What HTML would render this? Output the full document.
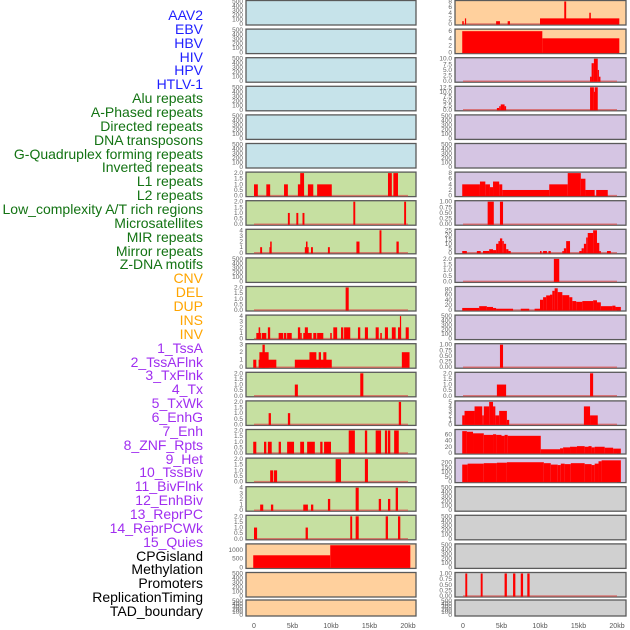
<!DOCTYPE html>
<html><head><meta charset="utf-8"><style>
body{margin:0;background:#fff;}
#wrap{position:relative;width:630px;height:630px;overflow:hidden;font-family:"Liberation Sans",sans-serif;}
.lab{position:absolute;right:427px;font-size:14px;line-height:14px;white-space:nowrap;}
svg{position:absolute;left:0;top:0;}
</style></head><body>
<div id="wrap">
<div id="labels"></div>
<svg id="svg" width="630" height="630"></svg>
</div>
<script>
// track labels
const labelNames = ["AAV2","EBV","HBV","HIV","HPV","HTLV-1","Alu repeats","A-Phased repeats","Directed repeats","DNA transposons","G-Quadruplex forming repeats","Inverted repeats","L1 repeats","L2 repeats","Low_complexity A/T rich regions","Microsatellites","MIR repeats","Mirror repeats","Z-DNA motifs","CNV","DEL","DUP","INS","INV","1_TssA","2_TssAFlnk","3_TxFlnk","4_Tx","5_TxWk","6_EnhG","7_Enh","8_ZNF_Rpts","9_Het","10_TssBiv","11_BivFlnk","12_EnhBiv","13_ReprPC","14_ReprPCWk","15_Quies","CPGisland","Methylation","Promoters","ReplicationTiming","TAD_boundary"];
const labelGroups = ["b","b","b","b","b","b","g","g","g","g","g","g","g","g","g","g","g","g","g","o","o","o","o","o","p","p","p","p","p","p","p","p","p","p","p","p","p","p","p","k","k","k","k","k"];
const groupColors = {b:"#1f1fff",g:"#137313",o:"#ffa500",p:"#a02ef0",k:"#000"};

// x ticks
const xTickValues = [0,5000,10000,15000,20000];
const xTickLabels = ["0","5kb","10kb","15kb","20kb"];

// column 1 data: segments [startKb, endKb, value]
const c1r6 = [[0,0.5,1],[1.6,2.1,1],[3.9,4.4,1],[5.7,6.5,1],[6.0,6.5,2],[7.0,7.7,1],[8.2,10.1,1],[17.4,17.9,2],[18.1,18.7,2]];
const c1r7 = [[4.4,4.65,1],[5.5,5.75,1],[6.3,6.55,1],[12.9,13.15,2],[19.5,19.75,2]];
const c1r8 = [[0.8,1.05,1],[2.0,2.2,1],[2.1,2.3,2],[6.6,6.8,1],[6.75,6.95,2],[6.9,7.1,1],[7.4,7.65,1],[9.6,9.85,1],[13.3,13.7,2],[16.3,16.55,4],[18.5,18.8,2]];
const c1r10 = [[11.9,12.3,2]];
const c1r11 = [[0.3,0.9,1],[0.6,0.8,2],[1.0,1.6,1],[1.8,2.1,2],[3.2,3.8,1],[3.9,4.2,1],[4.3,4.9,1],[5.7,6.0,2],[6.0,6.2,1],[6.4,7.5,1],[6.6,7.0,2],[7.7,8.1,1],[8.2,9.0,1],[9.9,10.1,1],[10.3,10.8,2],[11.3,11.6,2],[11.7,12.5,2],[13.5,13.8,2],[14.4,14.8,2],[15.8,16.2,2],[16.4,16.6,1],[17.0,17.4,2],[17.9,18.4,2],[18.7,19.1,2],[18.95,19.1,4],[19.7,20.1,2]];
const c1r12 = [[-0.1,0.3,1],[0.6,2.9,1],[0.7,1.9,2],[1.1,1.4,3],[5.3,10.1,1],[7.2,8.1,2],[8.4,8.7,2],[9.0,9.4,2],[19.2,20.2,2]];
const c1r13 = [[5.3,5.7,1],[13.8,14.2,2]];
const c1r14 = [[1.9,2.2,1],[4.4,4.7,1],[18.8,19.1,2]];
const c1r15 = [[-0.1,0.3,1],[1.3,1.6,1],[1.8,2.3,1],[3.2,3.5,1],[4.3,5.2,1],[6.0,6.5,1],[6.9,7.9,1],[8.6,8.9,1],[9.1,10.0,1],[12.3,13.1,2],[14.4,14.7,2],[15.8,16.5,2],[17.0,17.3,2],[17.4,17.7,2],[18.2,18.8,2]];
const c1r16 = [[2.1,2.5,1],[2.6,3.0,1],[10.6,11.3,2],[14.4,14.8,2]];
const c1r17 = [[0.8,1.2,1],[2.2,2.5,1],[6.4,7.0,1],[7.4,7.7,1],[9.6,9.9,2],[13.2,13.6,4],[16.2,16.5,2],[17.4,17.7,2],[18.4,18.7,4]];
const c1r18 = [[0,0.4,1],[6.7,7.0,1],[12.5,12.75,2],[13.2,13.6,2],[17.1,17.4,2],[18.7,19.0,2]];
const c1r19 = [[-0.1,9.9,700],[9.9,20.3,1280]];

// column 2 data
const c2r0 = [[-0.1,0.1,1],[0.25,0.4,2],[4.3,4.8,1],[5.8,6.1,1],[10.0,20.3,2],[13.15,13.4,8],[16.4,16.6,4]];
const c2r1 = [[-0.1,10.3,6],[10.3,20.3,4]];
const c2r2 = [[16.5,16.7,2],[16.7,17.0,8],[17.0,17.5,10],[17.5,17.65,5],[17.65,17.85,2]];
const c2r3 = [[4.4,4.7,1],[4.7,4.9,2],[4.9,5.4,3],[5.4,5.6,2],[16.5,17.0,12.5],[17.0,17.1,10],[17.1,17.5,12.5]];
const c2r6 = [[-0.1,2.2,4],[2.2,2.9,5],[2.9,3.5,4],[3.5,3.9,3],[3.9,4.7,5],[4.7,5.1,4],[5.1,11.2,2],[11.2,13.6,4],[13.6,15.3,8],[15.3,15.9,6],[15.9,17.1,2],[17.3,18.8,2]];
const c2r7 = [[3.2,4.0,1],[4.8,5.2,1]];
const c2r8 = [[-0.1,0.5,2],[1.8,2.3,2],[2.6,3.4,2],[3.4,3.9,4],[3.9,4.3,3],[4.3,4.6,10],[4.6,4.8,13],[4.8,5.1,16],[5.1,5.3,13],[5.3,5.6,10],[5.6,5.9,4],[5.9,6.2,2],[10.0,10.2,2],[10.4,10.9,2],[11.1,11.4,2],[12.9,13.1,2],[13.1,13.4,5],[13.4,13.9,13],[15.1,15.4,2],[15.4,15.7,5],[15.7,16.0,10],[16.0,16.2,17],[16.2,16.9,22],[16.9,17.4,25],[17.4,17.7,11],[17.7,17.9,2],[18.7,19.2,2]];
const c2r9 = [[11.8,12.5,2]];
const c2r10 = [[-0.1,2.1,8],[2.1,3.1,15],[3.1,3.9,12],[3.9,4.3,8],[4.3,6.5,5],[7.5,8.6,5],[9.3,10.0,5],[10.0,10.4,40],[10.4,10.8,50],[10.8,11.3,57],[11.3,11.6,60],[11.6,11.9,75],[11.9,12.3,85],[12.3,12.9,70],[12.9,13.8,58],[13.8,14.2,50],[14.2,14.7,35],[14.7,15.5,32],[15.5,16.9,35],[16.9,17.4,38],[17.4,17.9,30],[17.9,19.4,15],[19.4,19.8,17],[19.8,20.5,12]];
const c2r12 = [[4.8,5.2,1]];
const c2r13 = [[4.4,5.6,1],[16.5,16.9,2]];
const c2r14 = [[-0.1,0.2,2],[0.2,1.5,3],[1.5,2.5,4],[2.5,2.7,2],[2.7,3.4,4],[3.4,3.9,5],[3.9,4.2,4],[4.2,4.7,2],[4.7,5.7,3],[5.7,6.0,1],[15.7,16.5,4],[16.5,17.5,2]];
const c2r15 = [[-0.1,0.5,70],[0.5,1.3,68],[1.3,2.7,63],[2.7,3.9,58],[3.9,4.3,60],[4.3,5.0,58],[5.0,5.4,55],[5.4,5.8,58],[5.8,10.1,55],[10.1,12.6,12],[12.6,13.0,15],[13.0,13.9,18],[13.9,14.8,20],[14.8,15.8,22],[15.8,16.3,20],[16.3,16.7,22],[16.7,17.1,18],[17.1,18.4,20],[18.4,19.5,17],[19.5,20.5,14]];
const c2r16 = [[-0.1,0.6,180],[0.6,2.7,190],[2.7,4.4,195],[4.4,5.7,200],[5.7,10.5,205],[10.5,11.4,195],[11.4,12.3,180],[12.3,12.7,175],[12.7,13.2,190],[13.2,14.0,185],[14.0,15.8,195],[15.8,16.7,185],[16.7,17.1,175],[17.1,17.6,190],[17.6,18.0,215],[18.0,20.5,225]];
const c2r20 = [[0.3,0.55,1],[2.3,2.55,1],[5.4,5.7,1],[6.5,6.8,1],[7.5,7.8,1],[8.35,8.65,1]];

const colBg1 = ["#c6e3ea","#c6e3ea","#c6e3ea","#c6e3ea","#c6e3ea","#c6e3ea","#c6e0a1","#c6e0a1","#c6e0a1","#c6e0a1","#c6e0a1","#c6e0a1","#c6e0a1","#c6e0a1","#c6e0a1","#c6e0a1","#c6e0a1","#c6e0a1","#c6e0a1","#ffd09d","#ffd09d","#ffd09d"];
const colBg2 = ["#ffd09d","#ffd09d","#d5c5e3","#d5c5e3","#d5c5e3","#d5c5e3","#d5c5e3","#d5c5e3","#d5c5e3","#d5c5e3","#d5c5e3","#d5c5e3","#d5c5e3","#d5c5e3","#d5c5e3","#d5c5e3","#d5c5e3","#d0d0d0","#d0d0d0","#d0d0d0","#d0d0d0","#d0d0d0"];
// [ymax, tickStep, decimals, data]
const col1 = [
 [500,100,0,null],[500,100,0,null],[500,100,0,null],[500,100,0,null],[500,100,0,null],[500,100,0,null],
 [2,0.5,1,c1r6],[2,0.5,1,c1r7],[4,1,0,c1r8],[500,100,0,null],[2,0.5,1,c1r10],[4,1,0,c1r11],[3,1,0,c1r12],
 [2,0.5,1,c1r13],[2,0.5,1,c1r14],[2,0.5,1,c1r15],[2,0.5,1,c1r16],[4,1,0,c1r17],[2,0.5,1,c1r18],
 [1300,500,0,c1r19],[500,100,0,null],[500,100,0,null]];
const col2 = [
 [8,2,0,c2r0],[6.3,2,0,c2r1],[10,2.5,1,c2r2],[12.5,2.5,1,c2r3],[500,100,0,null],[500,100,0,null],
 [8,2,0,c2r6],[1,0.25,2,c2r7],[25,5,0,c2r8],[2,0.5,1,c2r9],[88,20,0,c2r10],[500,100,0,null],[1,0.25,2,c2r12],
 [2,0.5,1,c2r13],[5,1,0,c2r14],[72,20,0,c2r15],[238,50,0,c2r16],[500,100,0,null],[500,100,0,null],
 [500,100,0,null],[1,0.25,2,c2r20],[500,100,0,null]];

const NS="http://www.w3.org/2000/svg";
const svg=document.getElementById('svg');
function mk(tag,attrs,parent){const e=document.createElementNS(NS,tag);for(const k in attrs)e.setAttribute(k,attrs[k]);(parent||svg).appendChild(e);return e;}

// labels
const labDiv=document.getElementById('labels');
labelNames.forEach((n,i)=>{
  const d=document.createElement('div');
  d.className='lab';
  d.style.top=(8+i*13.86)+'px';
  d.style.color=groupColors[labelGroups[i]];
  d.textContent=n;
  
  
  labDiv.appendChild(d);
});

function xScale(col,kb){const x0=col===0?254:463;return x0+kb*7.7;}
function rowTop(i){return i===21?600:0.5+i*28.6;}
function rowH(i){return i===21?16:24.5;}

function drawCol(col,spec,bgs){
  const left=col===0?246:455, w=col===0?170:171;
  spec.forEach((s,i)=>{
    const [ymax,step,dec,data]=s;
    const T=rowTop(i),H=rowH(i),B=T+H;
    const g=mk('g',{});
    
    
    mk('rect',{x:left,y:T,width:w,height:H,fill:bgs[i],stroke:'#5a5a5a','stroke-width':1.3},g);
    const yS=v=>B-1-v/ymax*(H-2);
    // y ticks
    for(let v=0;v<=ymax+1e-9;v+=step){
      const t=mk('text',{x:left-3,y:yS(v)+2,'font-size':6.5,fill:'#666','text-anchor':'end'},g);
      t.textContent=v.toFixed(dec);
      
      
    }
    if(data){
      mk('line',{x1:xScale(col,0),x2:xScale(col,20),y1:yS(0),y2:yS(0),stroke:'#d9534f','stroke-width':1.5,opacity:0.7},g);
      data.forEach(d=>{
        const x1=xScale(col,d[0]),x2=xScale(col,d[1]);
        const r=mk('rect',{x:x1,y:yS(d[2]),width:Math.max(1.2,x2-x1),height:yS(0)-yS(d[2])+0.5,fill:'#ff0000'},g);
        
        
      });
    }
  });
  xTickValues.forEach((v,j)=>{
    const t=mk('text',{x:xScale(col,v/1000),y:628,'font-size':7,fill:'#555','text-anchor':'middle'});
    t.textContent=xTickLabels[j];
    
    
  });
}
drawCol(0,col1,colBg1);
drawCol(1,col2,colBg2);
</script>
</body></html>
